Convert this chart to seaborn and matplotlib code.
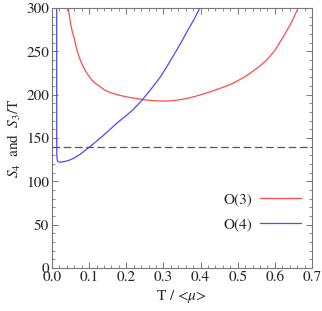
import numpy as np
import pandas as pd
import matplotlib
matplotlib.use('Agg')
import matplotlib.pyplot as plt
from matplotlib.ticker import MultipleLocator, FormatStrFormatter
import seaborn as sns

# ---- data ---- #
t_o3 = [0.044, 0.047, 0.051, 0.055, 0.060, 0.065, 0.071, 0.079, 0.089, 0.100,
        0.111, 0.127, 0.143, 0.160, 0.179, 0.200, 0.223, 0.250, 0.275, 0.300,
        0.325, 0.350, 0.375, 0.398, 0.420, 0.440, 0.460, 0.479, 0.500, 0.520,
        0.533, 0.555, 0.578, 0.600, 0.623, 0.643, 0.663]
s_o3 = [300, 290, 280, 272, 265, 255, 246, 237, 228, 221,
        215, 210, 205, 202, 199.6, 197.5, 195.8, 194, 193, 192.6,
        193, 194.5, 196.8, 199.6, 202.5, 205.5, 208.5, 211.5, 216, 221,
        224.6, 231.5, 240, 251, 267, 282, 300]

t_o4 = [0.0126, 0.0126, 0.0127, 0.0130, 0.0140, 0.016, 0.0215, 0.035, 0.048, 0.060,
        0.075, 0.088, 0.102, 0.120, 0.138, 0.156, 0.174, 0.196, 0.219, 0.241,
        0.264, 0.291, 0.310, 0.331, 0.348, 0.365, 0.382, 0.398]
s_o4 = [300, 200, 150, 130, 124.5, 122.8, 122, 123, 124.6, 127,
        131, 135.3, 140, 146.3, 152.9, 159.8, 167, 174.5, 183, 193,
        205, 220, 233, 248, 260.5, 274, 286.5, 300]

s_ref = 140

df3 = pd.DataFrame({'T': t_o3, 'S': s_o3})
df4 = pd.DataFrame({'T': t_o4, 'S': s_o4})

sns.set_style('ticks')
plt.rcParams['font.family'] = ['STIXGeneral', 'DejaVu Serif']
plt.rcParams['mathtext.fontset'] = 'stix'

fig = plt.figure(figsize=(3.22, 3.11), dpi=100)
ax = fig.add_axes([52/322, 43/311, 260/322, 260/311])

red = '#ff4a4a'
blue = '#4a4aff'
sns.lineplot(data=df3, x='T', y='S', ax=ax, color=red, lw=0.9,
             estimator=None, sort=False, label='O(3)')
sns.lineplot(data=df4, x='T', y='S', ax=ax, color=blue, lw=0.9,
             estimator=None, sort=False, label='O(4)')
# reference level
ax.axhline(s_ref, color='#555555', lw=0.9, ls=(0, (6, 3)))

ax.set_xlim(0, 0.7)
ax.set_ylim(0, 300)
ax.xaxis.set_major_locator(MultipleLocator(0.1))
ax.xaxis.set_minor_locator(MultipleLocator(0.02))
ax.yaxis.set_major_locator(MultipleLocator(50))
ax.yaxis.set_minor_locator(MultipleLocator(10))
ax.xaxis.set_major_formatter(FormatStrFormatter('%.1f'))

ax.tick_params(which='both', direction='in', top=True, right=True,
               color='#777777', labelsize=11)
ax.tick_params(axis='x', pad=2)
ax.tick_params(axis='y', pad=2)
ax.tick_params(which='major', length=4, width=0.7)
ax.tick_params(which='minor', length=2, width=0.6)
for sp in ax.spines.values():
    sp.set_color('#777777')
    sp.set_linewidth(0.8)

ax.set_xlabel(r'T / <$\mu$>', fontsize=11, labelpad=3)
ax.set_ylabel(r'$S_4$  and  $S_3$/T', fontsize=11, labelpad=2)

ax.legend(loc='center right', bbox_to_anchor=(0.958, 0.217), frameon=False,
          markerfirst=False, fontsize=11, handlelength=2.7, handletextpad=0.5,
          labelspacing=0.75, borderpad=0, borderaxespad=0)

fig.savefig('out.png', dpi=100)
